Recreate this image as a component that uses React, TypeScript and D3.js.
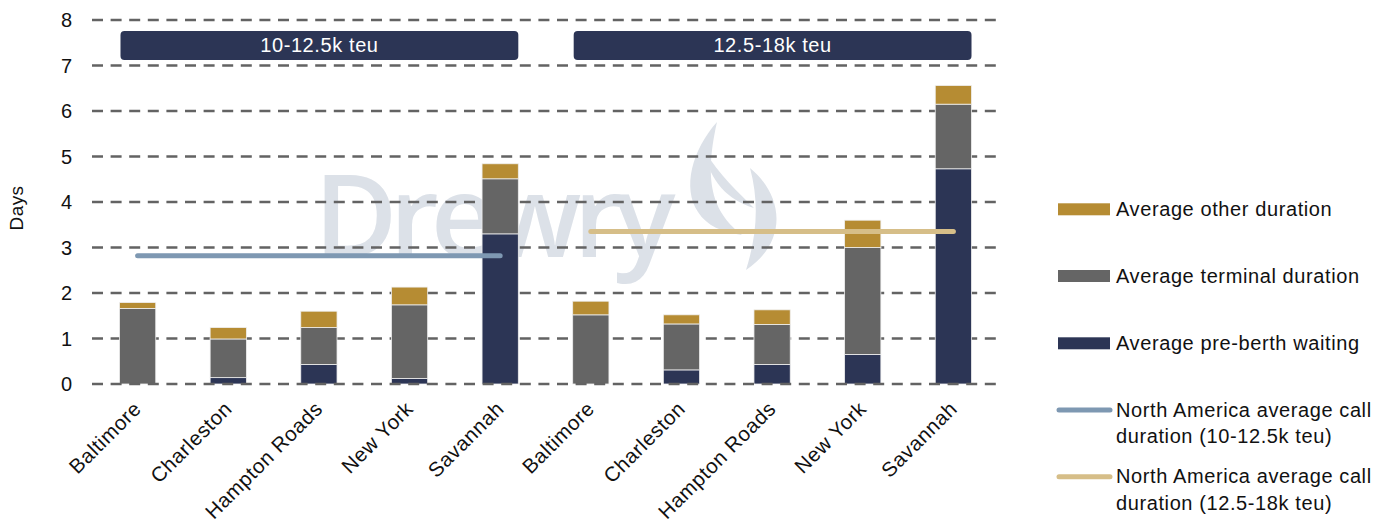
import React from "react";
import * as d3 from "d3";

const categories = ["Baltimore", "Charleston", "Hampton Roads", "New York", "Savannah"];
const groups = ["10-12.5k teu", "12.5-18k teu"];
const preBerthSmall = [0, 0.14, 0.43, 0.12, 3.3];
const terminalSmall = [1.66, 0.85, 0.81, 1.62, 1.21];
const otherSmall = [0.13, 0.25, 0.36, 0.39, 0.33];
const preBerthLarge = [0, 0.31, 0.43, 0.65, 4.73];
const terminalLarge = [1.52, 1.01, 0.88, 2.35, 1.42];
const otherLarge = [0.3, 0.2, 0.32, 0.6, 0.41];
const avgCall = [2.82, 3.35];
const yTicks = [0, 1, 2, 3, 4, 5, 6, 7, 8];
const seriesKeys = ["pre", "terminal", "other"];
const seriesNames = ["Average pre-berth waiting", "Average terminal duration", "Average other duration"];
const avgNames = [
  ["North America average call", "duration (10-12.5k teu)"],
  ["North America average call", "duration (12.5-18k teu)"],
];

const W = 1389;
const H = 519;
const FONT = "'Liberation Sans', Arial, Helvetica, sans-serif";
const colors: Record<string, string> = { pre: "#2C3555", terminal: "#656565", other: "#B68C33" };
const avgColors = ["#7E98B2", "#D6BE88"];

type Row = { key: string; group: number; cat: string; pre: number; terminal: number; other: number };

const rows: Row[] = [];
[
  [preBerthSmall, terminalSmall, otherSmall],
  [preBerthLarge, terminalLarge, otherLarge],
].forEach((g, gi) => {
  categories.forEach((c, ci) => {
    rows.push({ key: `${gi}-${c}`, group: gi, cat: c, pre: g[0][ci], terminal: g[1][ci], other: g[2][ci] });
  });
});

export default function App() {
  const x = d3
    .scaleBand<string>()
    .domain(rows.map((r) => r.key))
    .range([92.3, 998.7])
    .paddingInner(0.6)
    .paddingOuter(0.3);
  const y = d3.scaleLinear().domain([0, 8]).range([384, 20]);
  const stacked = d3.stack<Row>().keys(seriesKeys)(rows);
  const bw = x.bandwidth();

  const gridLine = (t: number, i: number) => (
    <line
      key={i}
      x1={92}
      x2={999}
      y1={y(t)}
      y2={y(t)}
      stroke="#636363"
      strokeWidth={2.5}
      strokeDasharray="11 7.6"
    />
  );

  return (
    <div style={{ position: "fixed", left: 0, top: 0 }}>
      <svg width={W} height={H} style={{ display: "block", background: "#fff" }} fontFamily={FONT}>
        {/* watermark */}
        <g fill="#DCE1E8">
          <text
            x={314}
            y={257}
            fontSize={114}
            fontWeight={600}
            fontFamily="'Open Sans', 'Liberation Sans', Arial, sans-serif"
            letterSpacing={-8}
          >
            Drewry
          </text>
          <path d="M717,122 C692,150 682,188 698,212 C707,226 722,232 742,235 C716,214 702,188 717,122 Z" />
          <path d="M704,150 C710,182 728,200 754,208 C738,192 720,176 704,150 Z" />
          <path d="M750,168 C784,196 788,242 746,270 C756,238 760,205 750,168 Z" />
        </g>

        {/* gridlines (behind bars) */}
        {yTicks.filter((t) => t > 0).map(gridLine)}

        {/* bars */}
        {stacked.map((s) => (
          <g key={s.key} fill={colors[s.key]}>
            {s.map((d, i) =>
              d[1] - d[0] > 0 ? (
                <rect
                  key={i}
                  x={x(d.data.key)}
                  y={y(d[1])}
                  width={bw}
                  height={y(d[0]) - y(d[1])}
                  stroke="#EFEFEF"
                  strokeWidth={0.8}
                />
              ) : null
            )}
          </g>
        ))}

        {/* zero line on top */}
        {gridLine(0, 99)}

        {/* average lines */}
        {groups.map((g, gi) => {
          const keys = rows.filter((r) => r.group === gi).map((r) => r.key);
          const x1 = (x(keys[0]) as number) + bw / 2;
          const x2 = (x(keys[keys.length - 1]) as number) + bw / 2;
          return (
            <line
              key={g}
              x1={x1}
              x2={x2}
              y1={y(avgCall[gi])}
              y2={y(avgCall[gi])}
              stroke={avgColors[gi]}
              strokeWidth={5}
              strokeLinecap="round"
            />
          );
        })}

        {/* group banners */}
        {groups.map((g, gi) => {
          const keys = rows.filter((r) => r.group === gi).map((r) => r.key);
          const bx1 = (x(keys[0]) as number) + 1;
          const bx2 = (x(keys[keys.length - 1]) as number) + bw;
          const by1 = y(7.76);
          const by2 = y(7.12);
          return (
            <g key={g}>
              <rect x={bx1} y={by1} width={bx2 - bx1} height={by2 - by1} rx={4} fill="#2C3555" />
              <text
                x={(bx1 + bx2) / 2}
                y={(by1 + by2) / 2 + 7}
                textAnchor="middle"
                fill="#fff"
                fontSize={20}
                letterSpacing={0.6}
              >
                {g}
              </text>
            </g>
          );
        })}

        {/* y ticks */}
        {yTicks.map((t) => (
          <text key={t} x={72} y={y(t) + 7} textAnchor="end" fontSize={20} fill="#111">
            {t}
          </text>
        ))}
        <text
          transform={`translate(23,208) rotate(-90)`}
          textAnchor="middle"
          fontSize={19}
          fill="#111"
          letterSpacing={0.4}
        >
          Days
        </text>

        {/* x labels */}
        {rows.map((r) => (
          <text
            key={r.key}
            transform={`translate(${(x(r.key) as number) + bw / 2 + 5},${410}) rotate(-45)`}
            textAnchor="end"
            fontSize={20.5}
            fill="#111"
            letterSpacing={0.6}
          >
            {r.cat}
          </text>
        ))}

        {/* legend */}
        {["other", "terminal", "pre"].map((k, i) => {
          const cy = [209.3, 276, 343.3][i];
          return (
            <g key={k}>
              <rect x={1058} y={cy - 6} width={52} height={12} fill={colors[k]} />
              <text x={1116} y={cy + 7} fontSize={20} fill="#111" letterSpacing={0.6}>
                {seriesNames[seriesKeys.indexOf(k)]}
              </text>
            </g>
          );
        })}
        {avgNames.map((lines, i) => {
          const cy = [410, 476.7][i];
          return (
            <g key={i}>
              <line x1={1059} x2={1110} y1={cy} y2={cy} stroke={avgColors[i]} strokeWidth={5} strokeLinecap="round" />
              {lines.map((l, li) => (
                <text key={li} x={1116} y={cy + 6.5 + li * 26.5} fontSize={20} fill="#111" letterSpacing={0.6}>
                  {l}
                </text>
              ))}
            </g>
          );
        })}
      </svg>
    </div>
  );
}
